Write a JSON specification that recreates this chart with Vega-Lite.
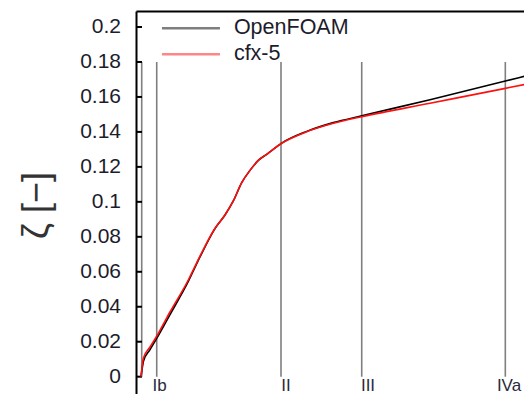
{
  "$schema": "https://vega.github.io/schema/vega-lite/v6.json",
  "width": 388,
  "height": 383,
  "autosize": "none",
  "padding": {"left": 136, "top": 11, "right": 0, "bottom": 0},
  "background": "white",
  "config": {
    "view": {"stroke": null},
    "font": "Liberation Sans",
    "axis": {"grid": false}
  },
  "datasets": {
    "curves": [
      {"series": "OpenFOAM", "x": 0.0125, "zeta": 0},
      {"series": "OpenFOAM", "x": 0.015, "zeta": 0.004},
      {"series": "OpenFOAM", "x": 0.0188, "zeta": 0.009},
      {"series": "OpenFOAM", "x": 0.035, "zeta": 0.0155},
      {"series": "OpenFOAM", "x": 0.0558, "zeta": 0.0235},
      {"series": "OpenFOAM", "x": 0.085, "zeta": 0.0355},
      {"series": "OpenFOAM", "x": 0.1308, "zeta": 0.0545},
      {"series": "OpenFOAM", "x": 0.16, "zeta": 0.0685},
      {"series": "OpenFOAM", "x": 0.1975, "zeta": 0.0847},
      {"series": "OpenFOAM", "x": 0.2225, "zeta": 0.0925},
      {"series": "OpenFOAM", "x": 0.2433, "zeta": 0.1005},
      {"series": "OpenFOAM", "x": 0.2643, "zeta": 0.111},
      {"series": "OpenFOAM", "x": 0.285, "zeta": 0.118},
      {"series": "OpenFOAM", "x": 0.3058, "zeta": 0.1237},
      {"series": "OpenFOAM", "x": 0.3268, "zeta": 0.1272},
      {"series": "OpenFOAM", "x": 0.3643, "zeta": 0.1336},
      {"series": "OpenFOAM", "x": 0.4268, "zeta": 0.1403},
      {"series": "OpenFOAM", "x": 0.4933, "zeta": 0.1453},
      {"series": "OpenFOAM", "x": 0.5643, "zeta": 0.1492},
      {"series": "OpenFOAM", "x": 0.735, "zeta": 0.1584},
      {"series": "OpenFOAM", "x": 0.9233, "zeta": 0.1691},
      {"series": "OpenFOAM", "x": 0.985, "zeta": 0.1726},
      {"series": "cfx-5", "x": 0.0125, "zeta": 0},
      {"series": "cfx-5", "x": 0.015, "zeta": 0.005},
      {"series": "cfx-5", "x": 0.0183, "zeta": 0.0105},
      {"series": "cfx-5", "x": 0.035, "zeta": 0.017},
      {"series": "cfx-5", "x": 0.0558, "zeta": 0.0248},
      {"series": "cfx-5", "x": 0.085, "zeta": 0.037},
      {"series": "cfx-5", "x": 0.1308, "zeta": 0.0553},
      {"series": "cfx-5", "x": 0.16, "zeta": 0.069},
      {"series": "cfx-5", "x": 0.1975, "zeta": 0.0849},
      {"series": "cfx-5", "x": 0.2225, "zeta": 0.0925},
      {"series": "cfx-5", "x": 0.2433, "zeta": 0.1005},
      {"series": "cfx-5", "x": 0.2643, "zeta": 0.111},
      {"series": "cfx-5", "x": 0.285, "zeta": 0.118},
      {"series": "cfx-5", "x": 0.3058, "zeta": 0.1237},
      {"series": "cfx-5", "x": 0.3268, "zeta": 0.1272},
      {"series": "cfx-5", "x": 0.3643, "zeta": 0.1335},
      {"series": "cfx-5", "x": 0.4268, "zeta": 0.1401},
      {"series": "cfx-5", "x": 0.4933, "zeta": 0.1449},
      {"series": "cfx-5", "x": 0.5643, "zeta": 0.1487},
      {"series": "cfx-5", "x": 0.735, "zeta": 0.1564},
      {"series": "cfx-5", "x": 0.9233, "zeta": 0.1649},
      {"series": "cfx-5", "x": 0.985, "zeta": 0.1677}
    ],
    "sections": [
      {"name": "Ia", "x": 0.0143},
      {"name": "Ib", "x": 0.0518},
      {"name": "II", "x": 0.3625},
      {"name": "III", "x": 0.5643},
      {"name": "IVa", "x": 0.9233}
    ],
    "labels": [
      {"label": "Ib", "x": 0.0588},
      {"label": "II", "x": 0.375},
      {"label": "III", "x": 0.58},
      {"label": "IVa", "x": 0.9325}
    ],
    "yticks": [
      {"v": 0, "label": "0"}, {"v": 0.02, "label": "0.02"}, {"v": 0.04, "label": "0.04"},
      {"v": 0.06, "label": "0.06"}, {"v": 0.08, "label": "0.08"}, {"v": 0.1, "label": "0.1"},
      {"v": 0.12, "label": "0.12"}, {"v": 0.14, "label": "0.14"}, {"v": 0.16, "label": "0.16"},
      {"v": 0.18, "label": "0.18"}, {"v": 0.2, "label": "0.2"}
    ]
  },
  "layer": [
    {
      "data": {"name": "sections"},
      "mark": {"type": "rule", "color": "#7f7f7f", "strokeWidth": 1.6},
      "encoding": {
        "x": {
          "field": "x", "type": "quantitative",
          "scale": {"domain": [0, 0.97], "nice": false, "zero": false},
          "axis": {"orient": "top", "labels": false, "ticks": false, "title": null, "domainColor": "black", "domainWidth": 2}
        },
        "y": {
          "datum": 0, "type": "quantitative",
          "scale": {"domain": [-0.0099, 0.20915], "nice": false, "zero": false},
          "axis": {
            "labels": false, "ticks": false,
            "domainColor": "black", "domainWidth": 2,
            "title": "ζ [−]", "titleFontSize": 36, "titleFontWeight": "normal", "titleColor": "#333333",
            "titleFont": "Liberation Sans", "titleAngle": -90, "titleAlign": "center", "titleBaseline": "middle",
            "titleX": -99.5, "titleY": 194
          }
        },
        "y2": {"datum": 0.18}
      }
    },
    {
      "data": {"name": "yticks"},
      "mark": {"type": "rule", "color": "black", "strokeWidth": 2},
      "encoding": {
        "y": {"field": "v", "type": "quantitative"},
        "x": {"datum": 0, "type": "quantitative"},
        "x2": {"datum": 0.015}
      }
    },
    {
      "data": {"name": "yticks"},
      "mark": {"type": "text", "fontSize": 21, "font": "Liberation Sans", "color": "#1c1c2c", "align": "right", "baseline": "middle", "dx": -15, "clip": false},
      "encoding": {
        "y": {"field": "v", "type": "quantitative"},
        "x": {"datum": 0, "type": "quantitative"},
        "text": {"field": "label"}
      }
    },
    {
      "data": {"name": "labels"},
      "mark": {"type": "text", "fontSize": 17, "font": "Liberation Sans", "color": "#2a2a3a", "align": "center", "baseline": "middle"},
      "encoding": {
        "x": {"field": "x", "type": "quantitative"},
        "y": {"datum": -0.0053, "type": "quantitative"},
        "text": {"field": "label"}
      }
    },
    {
      "data": {"name": "curves"},
      "mark": {"type": "line", "strokeWidth": 1.6, "clip": true, "interpolate": "monotone"},
      "encoding": {
        "x": {"field": "x", "type": "quantitative"},
        "y": {"field": "zeta", "type": "quantitative"},
        "color": {
          "field": "series", "type": "nominal",
          "scale": {"domain": ["OpenFOAM", "cfx-5"], "range": ["#000000", "#ff1010"]},
          "legend": {
            "title": null, "orient": "none", "legendX": 44.2, "legendY": 6.5, "padding": 0,
            "symbolType": "M-5,0H5", "symbolSize": 134.56, "symbolStrokeWidth": 2.5, "symbolOpacity": 0.5,
            "symbolFillColor": "transparent",
            "labelFontSize": 21.5, "labelFont": "Liberation Sans", "labelColor": "#1c1c2c", "labelOffset": 32.2,
            "rowPadding": 2.9
          }
        }
      }
    }
  ]
}
